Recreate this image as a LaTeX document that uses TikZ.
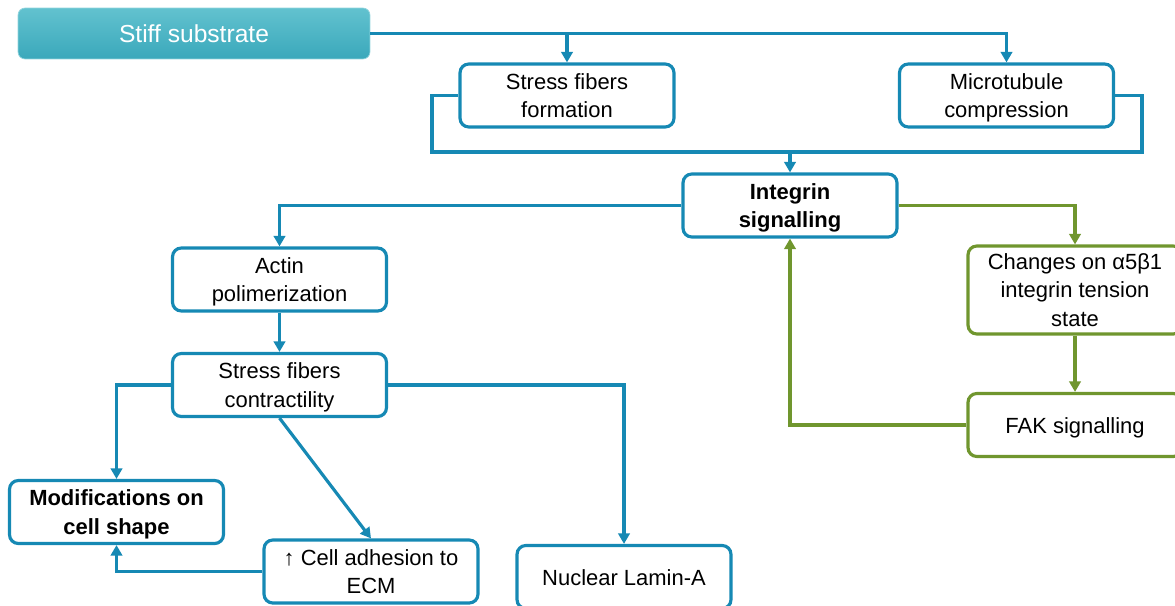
\documentclass[tikz,border=0pt]{standalone}
\usepackage{fontspec}
\setmainfont{Liberation Sans}
\usetikzlibrary{positioning, arrows.meta}
\definecolor{lineblue}{RGB}{22,137,180}
\definecolor{linegreen}{RGB}{112,150,46}
\definecolor{tealtop}{RGB}{98,194,207}
\definecolor{tealbot}{RGB}{58,168,187}
\begin{document}
\begin{tikzpicture}[x=0.02cm, y=-0.02cm,
  box/.style={draw=lineblue, line width=1.8pt, rounded corners=5pt, fill=white,
    minimum width=4.28cm, minimum height=1.26cm, inner sep=0pt, align=center,
    font=\fontsize{12.5}{16.2}\selectfont, text depth=0pt,
    execute at begin node={\rule{0pt}{9.2pt}}},
  gbox/.style={box, draw=linegreen},
  wire/.style={draw=lineblue, line width=1.8pt},
  link/.style={wire, -{Triangle[length=6pt,width=6.5pt]}},
  glink/.style={link, draw=linegreen}]

\useasboundingbox (0,0) rectangle (1175,605);

% source
\node[rounded corners=4pt, top color=tealtop, bottom color=tealbot, draw=tealtop!70!white,
  minimum width=7.04cm, minimum height=1.02cm, inner sep=0pt, text=white,
  font=\fontsize{14}{16}\selectfont] (sub) at (194,33.5) {Stiff substrate};

\node[box] (sff) at (567,95.5) {Stress fibers\\formation};
\node[box] (mtc) at (1006.5,95.5) {Microtubule\\compression};
\node[box] (int) at (790,205.5) {\textbf{Integrin}\\\textbf{signalling}};
\node[box] (act) at (279.5,279.5) {Actin\\polimerization};
\node[box] (sfc) at (279.5,385) {Stress fibers\\contractility};
\node[box] (mod) at (116.5,512) {\textbf{Modifications on}\\\textbf{cell shape}};
\node[box] (adh) at (371,571.5) {↑ Cell adhesion to\\ECM};
\node[box] (lam) at (624,577) {Nuclear Lamin-A};
\node[gbox, minimum height=1.76cm] (chg) at (1075,290) {Changes on α5β1\\integrin tension\\state};
\node[gbox] (fak) at (1075,425) {FAK signalling};

\coordinate (jl) at (432,152);
\coordinate (jm) at (790,152);
\coordinate (jr) at (1142,152);

% top branch
\draw[link] (sub.east) -| (mtc.north);
\draw[link] (sub.east -| sff.north) -- (sff.north);
\draw[wire] (sff.west) -| (jl) -- (jr) |- (mtc.east);
\draw[link] (jm) -- (int.north);

% left cascade
\draw[link] (int.west) -| (act.north);
\draw[link] (act.south) -- (sfc.north);
\draw[link] (sfc.west) -| (mod.north);
\draw[link] (sfc.south) -- (adh.north);
\draw[link] (sfc.east) -| (lam.north);
\draw[link] (adh.west) -| (mod.south);

% feedback loop
\draw[glink] (int.east) -| (chg.north);
\draw[glink] (chg.south) -- (fak.north);
\draw[glink] (fak.west) -| (int.south);

\end{tikzpicture}
\end{document}
